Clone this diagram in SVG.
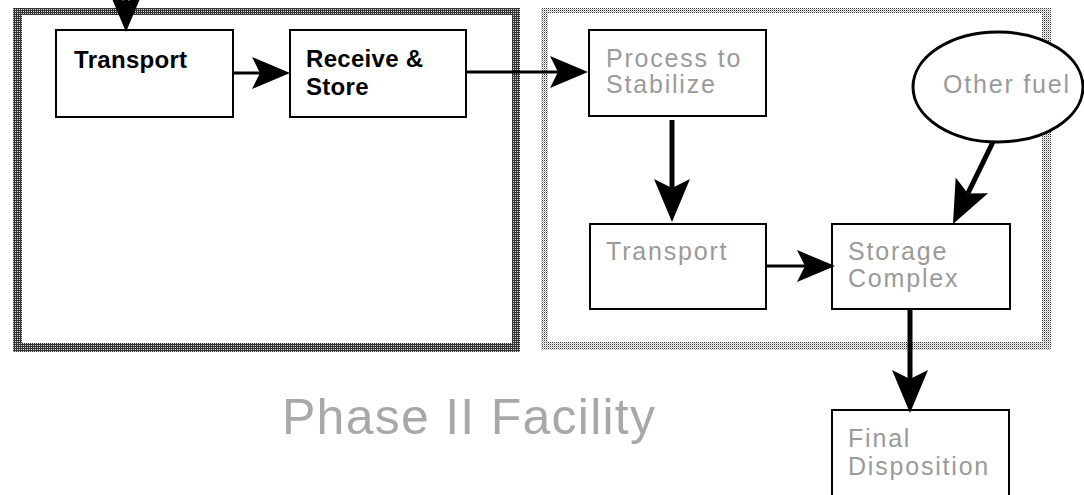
<svg xmlns="http://www.w3.org/2000/svg" width="1084" height="495" viewBox="0 0 1084 495">
  <style>
    .box { fill: #fff; stroke: #000; stroke-width: 2; }
    .bold { font-family: "Liberation Sans", Arial, sans-serif; font-weight: bold; font-size: 24px; fill: #000; letter-spacing: 0.3px; }
    .gray { font-family: "Liberation Sans", Arial, sans-serif; font-size: 25px; fill: #9a9a9a; letter-spacing: 1.8px; }
    .title { font-family: "Liberation Sans", Arial, sans-serif; font-size: 50px; fill: #a8a8a8; }
    .thin { fill: none; stroke: #000; stroke-width: 3; }
    .thick { fill: none; stroke: #000; stroke-width: 5; }
  </style>
  <defs>
    <pattern id="darkHatch" patternUnits="userSpaceOnUse" width="2" height="2">
      <rect width="2" height="2" fill="#333"/>
      <rect x="1" y="1" width="1" height="1" fill="#d8d8d8"/>
    </pattern>
    <pattern id="lightHatch" patternUnits="userSpaceOnUse" width="2" height="2">
      <rect width="2" height="2" fill="#ffffff"/>
      <rect x="0" y="0" width="1" height="1" fill="#333"/>
      <rect x="1" y="1" width="1" height="1" fill="#bbbbbb"/>
    </pattern>
    <marker id="arrowS" viewBox="-42 -19 44 38" markerWidth="44" markerHeight="38" refX="-30" refY="0" orient="auto" markerUnits="userSpaceOnUse">
      <path d="M0,0 L-38,-16 L-30,0 L-38,16 Z" fill="#000"/>
    </marker>
    <marker id="arrowL" viewBox="-47 -21 49 42" markerWidth="49" markerHeight="42" refX="-34" refY="0" orient="auto" markerUnits="userSpaceOnUse">
      <path d="M0,0 L-43,-18 L-34,0 L-43,18 Z" fill="#000"/>
    </marker>
  </defs>

  <rect width="1084" height="495" fill="#fff"/>

  <g id="frame-left">
    <path d="M13,8 H520 V352 H13 Z M22,15 V343 H512 V15 Z" fill="url(#darkHatch)" fill-rule="evenodd"/>
  </g>
  <g id="frame-right">
    <path d="M541,8 H1051 V350 H541 Z M548,13 V342 H1042 V13 Z" fill="url(#lightHatch)" fill-rule="evenodd"/>
  </g>

  <g id="node-transport">
    <rect class="box" x="56" y="30" width="177" height="87"/>
    <text class="bold" x="74" y="68">Transport</text>
  </g>
  <g id="node-receive-store">
    <rect class="box" x="290" y="30" width="176" height="87"/>
    <text class="bold" x="306" y="67">Receive &amp;</text>
    <text class="bold" x="306" y="95">Store</text>
  </g>
  <g id="node-process">
    <rect class="box" x="589" y="30" width="177" height="86"/>
    <text class="gray" x="606" y="67">Process to</text>
    <text class="gray" x="606" y="93">Stabilize</text>
  </g>
  <g id="node-transport2">
    <rect class="box" x="590" y="224" width="176" height="85"/>
    <text class="gray" x="606" y="260">Transport</text>
  </g>
  <g id="node-storage">
    <rect class="box" x="832" y="224" width="178" height="85"/>
    <text class="gray" x="848" y="260">Storage</text>
    <text class="gray" x="848" y="287">Complex</text>
  </g>
  <g id="node-other-fuel">
    <ellipse cx="998" cy="87" rx="85" ry="55" fill="#fff" stroke="#000" stroke-width="3"/>
    <text class="gray" x="943" y="93">Other fuel</text>
  </g>
  <g id="node-final">
    <rect class="box" x="832" y="410" width="177" height="100"/>
    <text class="gray" x="848" y="447">Final</text>
    <text class="gray" x="848" y="475">Disposition</text>
  </g>

  <g id="label-phase">
    <text class="title" x="282" y="434" textLength="373" lengthAdjust="spacing">Phase II Facility</text>
  </g>

  <g id="connectors">
    <path class="thick" d="M126,-40 V2" marker-end="url(#arrowS)"/>
    <path class="thin" d="M233,73 H260" marker-end="url(#arrowS)"/>
    <path class="thin" d="M466,72 H558" marker-end="url(#arrowS)"/>
    <path class="thick" d="M672,120 V188" marker-end="url(#arrowL)"/>
    <path class="thin" d="M766,266 H805" marker-end="url(#arrowS)"/>
    <path class="thick" d="M993,142 L967.9,193.4" marker-end="url(#arrowL)"/>
    <path class="thick" d="M910,309 V379" marker-end="url(#arrowL)"/>
  </g>
</svg>
